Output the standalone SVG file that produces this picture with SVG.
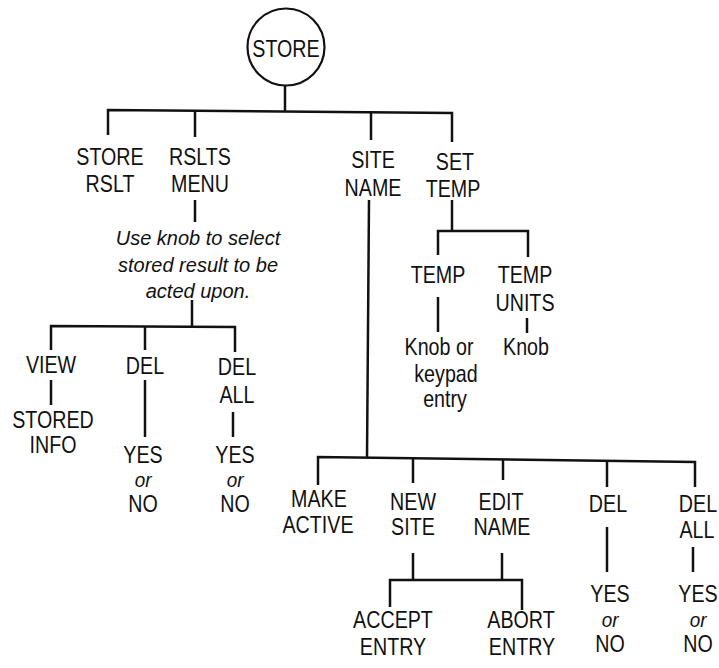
<svg xmlns="http://www.w3.org/2000/svg" width="719" height="668" viewBox="0 0 719 668">
<style>
text{font-family:"Liberation Sans",Arial,sans-serif;font-size:24px;fill:#111;text-anchor:middle;transform-box:fill-box;transform-origin:center;transform:scaleX(0.82)}
text.i{font-style:italic;font-size:20px;transform:none}
text.o{font-style:italic;font-size:21px;transform:scaleX(0.9)}
#connectors line,#connectors polyline{stroke:#111;stroke-width:2.5;fill:none}
</style>
<rect width="719" height="668" fill="#fff"/>
<g id="connectors">
<line x1="285" y1="85" x2="285" y2="111"/>
<polyline points="108,135 108,110 452,113 452,142"/>
<line x1="195" y1="111" x2="195" y2="137"/>
<line x1="371" y1="112" x2="371" y2="140"/>
<line x1="195" y1="200" x2="195" y2="222"/>
<line x1="192" y1="300" x2="192" y2="326"/>
<polyline points="51,350 51,326 235,327 235,352"/>
<line x1="145" y1="326" x2="145" y2="350"/>
<line x1="51" y1="380" x2="51" y2="405"/>
<line x1="145" y1="380" x2="145" y2="437"/>
<line x1="233" y1="412" x2="233" y2="437"/>
<line x1="452" y1="200" x2="452" y2="231"/>
<polyline points="438,255 438,231 528,231 528,257"/>
<line x1="438" y1="297" x2="438" y2="332"/>
<line x1="527" y1="318" x2="527" y2="333"/>
<line x1="369" y1="200" x2="367" y2="458"/>
<polyline points="318,485 318,457 695,462 695,487"/>
<line x1="413" y1="458" x2="413" y2="483"/>
<line x1="503" y1="459" x2="503" y2="480"/>
<line x1="607" y1="461" x2="607" y2="487"/>
<line x1="413" y1="553" x2="413" y2="580"/>
<line x1="502" y1="553" x2="502" y2="580"/>
<polyline points="390,607 390,580 522,580 522,610"/>
<line x1="607" y1="527" x2="607" y2="572"/>
<line x1="693" y1="547" x2="693" y2="572"/>
</g>
<g id="store"><circle cx="286" cy="47" r="38.5" fill="#fff" stroke="#111" stroke-width="2.2"/><text x="286" y="57">STORE</text></g>
<g id="store-rslt"><text x="110" y="165">STORE</text><text x="110" y="192">RSLT</text></g>
<g id="rslts-menu"><text x="200" y="165">RSLTS</text><text x="200" y="192">MENU</text></g>
<g id="site-name"><text x="373" y="168">SITE</text><text x="373" y="196">NAME</text></g>
<g id="set-temp"><text x="455" y="170">SET</text><text x="453" y="197">TEMP</text></g>
<g id="note"><text class="i" x="198" y="245">Use knob to select</text><text class="i" x="198" y="272">stored result to be</text><text class="i" x="198" y="298">acted upon.</text></g>
<g id="view"><text x="51" y="373">VIEW</text></g>
<g id="del1"><text x="145" y="374">DEL</text></g>
<g id="delall1"><text x="237" y="375">DEL</text><text x="237" y="403">ALL</text></g>
<g id="stored-info"><text x="53" y="428">STORED</text><text x="53" y="453">INFO</text></g>
<g id="yesno1"><text x="143" y="463">YES</text><text class="o" x="143" y="487">or</text><text x="143" y="512">NO</text></g>
<g id="yesno2"><text x="235" y="463">YES</text><text class="o" x="235" y="487">or</text><text x="235" y="512">NO</text></g>
<g id="temp"><text x="438" y="283">TEMP</text></g>
<g id="temp-units"><text x="525" y="283">TEMP</text><text x="525" y="311">UNITS</text></g>
<g id="knob-keypad"><text x="439" y="355">Knob or</text><text x="446" y="382">keypad</text><text x="445" y="407">entry</text></g>
<g id="knob"><text x="526" y="355">Knob</text></g>
<g id="make-active"><text x="319" y="507">MAKE</text><text x="318" y="533">ACTIVE</text></g>
<g id="new-site"><text x="413" y="510">NEW</text><text x="413" y="535">SITE</text></g>
<g id="edit-name"><text x="501" y="510">EDIT</text><text x="502" y="535">NAME</text></g>
<g id="del2"><text x="608" y="512">DEL</text></g>
<g id="delall2"><text x="698" y="512">DEL</text><text x="697" y="538">ALL</text></g>
<g id="yesno3"><text x="610" y="602">YES</text><text class="o" x="610" y="627">or</text><text x="610" y="652">NO</text></g>
<g id="yesno4"><text x="698" y="602">YES</text><text class="o" x="698" y="627">or</text><text x="698" y="652">NO</text></g>
<g id="accept-entry"><text x="393" y="628">ACCEPT</text><text x="393" y="655">ENTRY</text></g>
<g id="abort-entry"><text x="521" y="628">ABORT</text><text x="522" y="655">ENTRY</text></g>
</svg>
